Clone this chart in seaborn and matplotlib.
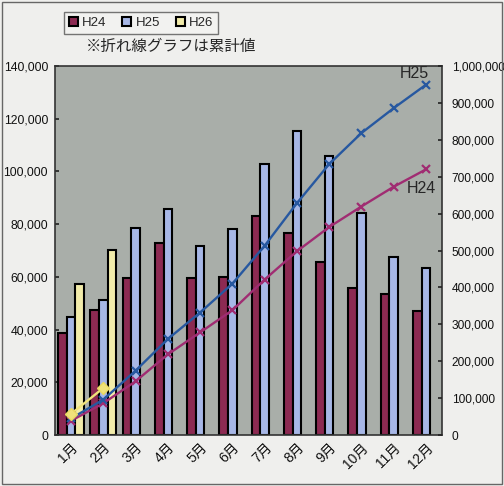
import numpy as np
import pandas as pd
import matplotlib
matplotlib.use('Agg')
import matplotlib.pyplot as plt
import seaborn as sns
from matplotlib.ticker import FuncFormatter
from matplotlib.patches import Rectangle

sns.set_theme(style='white')
plt.rcParams['font.family'] = ['Liberation Sans', 'Noto Sans CJK JP', 'DejaVu Sans']

months = ['1月', '2月', '3月', '4月', '5月', '6月', '7月', '8月', '9月', '10月', '11月', '12月']
years = ['H24', 'H25', 'H26']

# monthly values (left axis)
h24 = [38700, 47400, 59600, 72800, 59600, 60000, 83100, 76600, 65600, 55800, 53500, 47000]
h25 = [44800, 51200, 78500, 85700, 71700, 78100, 102800, 115300, 105900, 84200, 67500, 63400]
h26 = [57300, 70200] + [np.nan] * 10

# cumulative values (right axis)
h24_cum = [38700, 86100, 145700, 218500, 278100, 338100, 421200, 497800, 563400, 619200, 672700, 719700]
h25_cum = [44800, 96000, 174500, 260200, 331900, 410000, 512800, 628100, 734000, 818200, 885700, 949100]
h26_cum = [57300, 127500]

bar_colors = ['#8c2a52', '#a7b7e6', '#f2ecaa']
line_colors = {'H24': '#a02c72', 'H25': '#2758a0', 'H26': '#f0e27a'}

df = pd.DataFrame({
    'month': months * 3,
    'year': ['H24'] * 12 + ['H25'] * 12 + ['H26'] * 12,
    'value': h24 + h25 + h26,
})

fig = plt.figure(figsize=(5.04, 4.86), dpi=100)
fig.patch.set_facecolor('#efefed')
fig.patches.append(Rectangle((0.004, 0.004), 0.992, 0.992, transform=fig.transFigure,
                             fill=False, edgecolor='#666666', lw=1))
ax = fig.add_axes([55 / 504, 51 / 486, 387 / 504, 369 / 486])
ax.set_facecolor('#a9aea9')

sns.barplot(data=df, x='month', y='value', hue='year', hue_order=years,
            palette=bar_colors, edgecolor='black', linewidth=1.5,
            saturation=1, width=0.8, ax=ax, legend=True)

ax.set_ylim(0, 140000)
ax.set_xlim(-0.5, 11.5)
ax.set_yticks(np.arange(0, 140001, 20000))
ax.yaxis.set_major_formatter(FuncFormatter(lambda v, p: f'{int(v):,}'))
ax.set_xlabel('')
ax.set_ylabel('')
ax.tick_params(axis='y', labelsize=8.8, length=3, direction='in', pad=5, labelcolor='#111111')
ax.tick_params(axis='x', labelsize=10, length=0, pad=4, labelcolor='#111111')
for lab in ax.get_xticklabels():
    lab.set_rotation(45)
    lab.set_ha('right')
    lab.set_rotation_mode('anchor')
for s in ax.spines.values():
    s.set_color('#333333')
    s.set_linewidth(1.2)

ax2 = ax.twinx()
x = np.arange(12)
ax2.plot(x, h24_cum, color=line_colors['H24'], lw=1.7, marker='x', ms=6, mew=1.6)
ax2.plot(x, h25_cum, color=line_colors['H25'], lw=1.7, marker='x', ms=6, mew=1.6)
ax2.plot(x[:2], h26_cum, color=line_colors['H26'], lw=1.7, marker='D', ms=6,
         mec='#e8d860')
ax2.set_ylim(0, 1000000)
ax2.set_yticks(np.arange(0, 1000001, 100000))
ax2.yaxis.set_major_formatter(FuncFormatter(lambda v, p: f'{int(v):,}'))
ax2.tick_params(axis='y', labelsize=8.6, length=3, direction='in', pad=7, labelcolor='#111111')
for s in ax2.spines.values():
    s.set_visible(False)

ax2.text(11.1, 960000, 'H25', fontsize=11.5, ha='right', va='bottom')
ax2.text(11.3, 668000, 'H24', fontsize=11.5, ha='right', va='center')

handles, labels = ax.get_legend_handles_labels()
ax.legend_.remove()
leg = fig.legend(handles, labels, loc='center', bbox_to_anchor=(141 / 504, 1 - 23 / 486),
                 ncol=3, fontsize=9.5, frameon=True, fancybox=False, edgecolor='#555555',
                 handlelength=0.7, handleheight=0.7, handletextpad=0.3,
                 columnspacing=1.2, borderpad=0.35)
leg.get_frame().set_facecolor('#f3f3f1')

fig.text(171 / 504, 1 - 46 / 486, '※折れ線グラフは累計値', fontsize=11.2,
         ha='center', va='center')

fig.savefig('out.png', dpi=100, facecolor=fig.get_facecolor())
